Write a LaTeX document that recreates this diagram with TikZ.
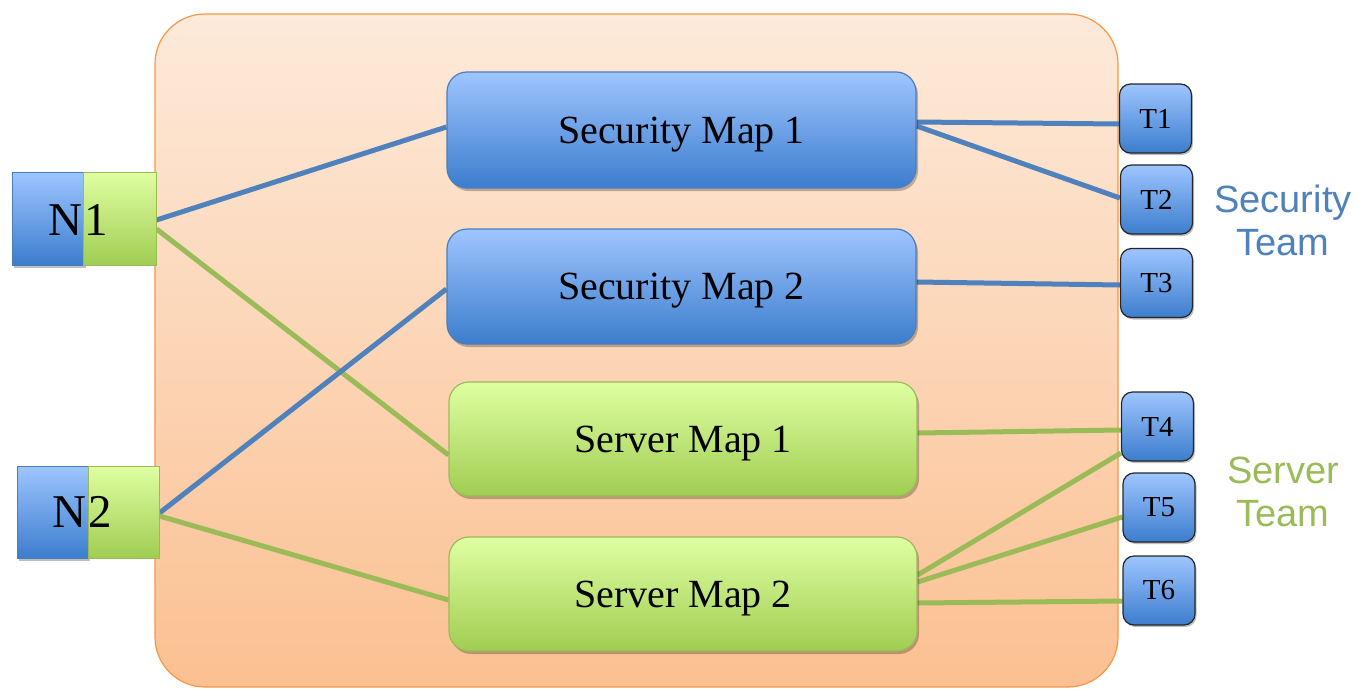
\documentclass[tikz,border=0pt]{standalone}
\usepackage{fontspec}
\setmainfont{Liberation Serif}
\newfontfamily\teamfont{Liberation Sans}
\usetikzlibrary{shadows}
\definecolor{orTop}{RGB}{253,234,218}
\definecolor{orBot}{RGB}{251,192,145}
\definecolor{orLine}{RGB}{247,150,70}
\definecolor{blTop}{RGB}{158,197,255}
\definecolor{blBot}{RGB}{60,125,205}
\definecolor{blLine}{RGB}{74,126,187}
\definecolor{grTop}{RGB}{223,255,162}
\definecolor{grBot}{RGB}{160,205,82}
\definecolor{grLine}{RGB}{155,187,89}
\definecolor{conBlue}{RGB}{79,129,189}
\definecolor{conGreen}{RGB}{155,187,89}
\pgfdeclarelayer{bg}
\pgfdeclarelayer{mid}
\pgfsetlayers{bg,mid,main}
\tikzset{
  mapbox/.style={draw, line width=1.2pt, rounded corners=20pt, inner sep=0pt,
    font=\fontsize{40}{44}\selectfont, text depth=0pt,
    drop shadow={shadow xshift=2pt, shadow yshift=-3pt, opacity=0.25, fill=black}},
  bluemap/.style={mapbox, draw=blLine, top color=blTop, bottom color=blBot},
  greenmap/.style={mapbox, draw=grLine, top color=grTop, bottom color=grBot},
  tbox/.style={draw=black!85, line width=1.2pt, rounded corners=11pt, inner sep=0pt,
    top color=blTop, bottom color=blBot, minimum width=72pt, minimum height=69pt,
    font=\fontsize{29}{32}\selectfont,
    drop shadow={shadow xshift=1.5pt, shadow yshift=-2pt, opacity=0.25, fill=black}},
  nblue/.style={draw=blLine, line width=1pt, inner sep=0pt, top color=blTop, bottom color=blBot,
    drop shadow={shadow xshift=2pt, shadow yshift=-3pt, opacity=0.25, fill=black}},
  ngreen/.style={draw=grLine, line width=1pt, inner sep=0pt, top color=grTop, bottom color=grBot},
  nlbl/.style={inner sep=0pt, font=\fontsize{47}{50}\selectfont},
  bcon/.style={draw=conBlue, line width=5pt},
  gcon/.style={draw=conGreen, line width=5pt},
  team/.style={align=center, font=\teamfont\fontsize{38}{43}\selectfont, inner sep=0pt}
}
\begin{document}
\begin{tikzpicture}[x=1pt, y=-1pt]
\useasboundingbox (0,0) rectangle (1359,688);
\begin{pgfonlayer}{bg}
\node[draw=orLine, line width=1.2pt, rounded corners=50pt, top color=orTop, bottom color=orBot,
  minimum width=963pt, minimum height=673pt, inner sep=0pt] (frame) at (636.5,350.5) {};
\end{pgfonlayer}

% maps
\node[bluemap, minimum width=469pt, minimum height=116pt] (sm1) at (681.5,130) {Security Map 1};
\node[bluemap, minimum width=469pt, minimum height=115pt] (sm2) at (681.5,286.5) {Security Map 2};
\node[greenmap, minimum width=468pt, minimum height=114pt] (vm1) at (683,439) {Server Map 1};
\node[greenmap, minimum width=468pt, minimum height=114pt] (vm2) at (683,594) {Server Map 2};

% N boxes
\node[nblue, minimum width=72pt, minimum height=93pt] (n1b) at (48,218.5) {};
\node[ngreen, minimum width=73pt, minimum height=93pt] (n1g) at (119.5,218.5) {};
\node[nlbl, anchor=base east] (n1t1) at (83,235) {N};
\node[nlbl, anchor=base west] (n1t2) at (84,235) {1};
\node[nblue, minimum width=71pt, minimum height=92pt] (n2b) at (52.5,512) {};
\node[ngreen, minimum width=71pt, minimum height=92pt] (n2g) at (123.5,512) {};
\node[nlbl, anchor=base east] (n2t1) at (87,527) {N};
\node[nlbl, anchor=base west] (n2t2) at (88,527) {2};

% T boxes
\node[tbox] (t1) at (1155.5,118.5) {T1};
\node[tbox] (t2) at (1156.5,199.5) {T2};
\node[tbox] (t3) at (1156.5,283) {T3};
\node[tbox] (t4) at (1157.5,426.5) {T4};
\node[tbox] (t5) at (1159,507.5) {T5};
\node[tbox] (t6) at (1159,590.5) {T6};

% team labels
\node[team, text=conBlue] (secteam) at (1283,220) {Security\\Team};
\node[team, text=conGreen] (srvteam) at (1283,492) {Server\\Team};

% connectors
\begin{pgfonlayer}{mid}
\draw[bcon] ([yshift=-1.5pt]n1g.east) -- ([yshift=3pt]sm1.west);
\draw[gcon] ([yshift=-10.5pt]n1g.east) -- ([yshift=-16pt]vm1.west);
\draw[bcon] ([yshift=-1pt]n2g.east) -- ([yshift=-2.5pt]sm2.west);
\draw[gcon] ([yshift=-4pt]n2g.east) -- ([yshift=-6pt]vm2.west);
\draw[bcon] ([yshift=8pt]sm1.east) -- ([yshift=-5.5pt]t1.west);
\draw[bcon] ([yshift=4pt]sm1.east) -- ([yshift=1.5pt]t2.west);
\draw[bcon] ([yshift=4.5pt]sm2.east) -- ([yshift=-2pt]t3.west);
\draw[gcon] ([yshift=6pt]vm1.east) -- ([yshift=-3.5pt]t4.west);
\draw[gcon] ([yshift=19pt]vm2.east) -- ([yshift=-26.5pt]t4.west);
\draw[gcon] ([yshift=12pt]vm2.east) -- ([yshift=-9.5pt]t5.west);
\draw[gcon] ([yshift=-9pt]vm2.east) -- ([yshift=-10.5pt]t6.west);
\end{pgfonlayer}
\end{tikzpicture}
\end{document}
